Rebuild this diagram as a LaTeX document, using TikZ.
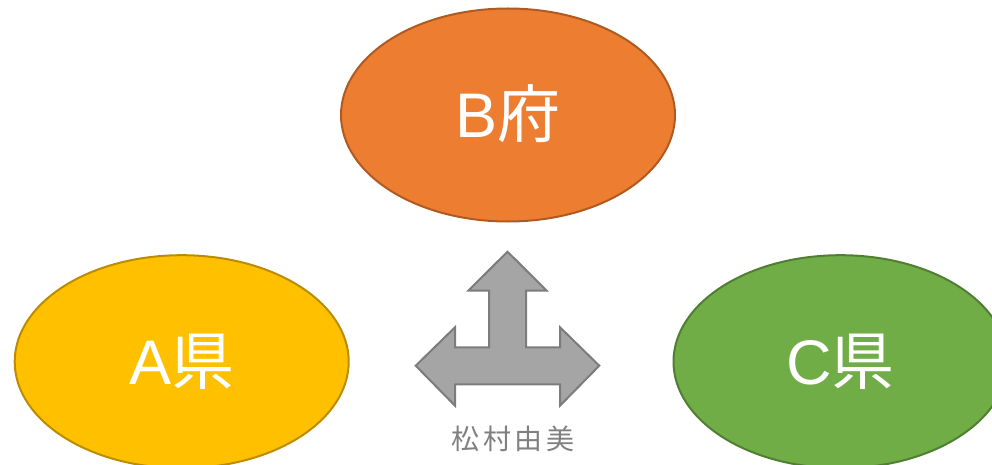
\documentclass[tikz,border=0pt]{standalone}
\usepackage{fontspec}
\setmainfont{Liberation Sans}
\newfontfamily\cjk{Noto Sans CJK JP}
\usetikzlibrary{shapes.geometric}
\definecolor{borange}{HTML}{ED7D31}
\definecolor{borangeline}{HTML}{AE5A21}
\definecolor{ayellow}{HTML}{FFC000}
\definecolor{ayellowline}{HTML}{BC8C00}
\definecolor{cgreen}{HTML}{70AD47}
\definecolor{cgreenline}{HTML}{507E32}
\definecolor{arrowfill}{HTML}{A5A5A5}
\definecolor{arrowline}{HTML}{7C7C7C}
\definecolor{labelgray}{HTML}{808080}
\tikzset{
  pref/.style={ellipse, inner sep=0pt, outer sep=0pt, line width=2pt,
    minimum width=334pt, minimum height=213pt, text=white,
    font=\fontsize{63}{63}\selectfont, text height=45pt, text depth=0pt},
  bigarrow/.style={fill=arrowfill, draw=arrowline, line width=2pt, line join=miter}
}
\begin{document}
\begin{tikzpicture}[x=1pt,y=-1pt]
\useasboundingbox (0,0) rectangle (992,465);
\clip (0,0) rectangle (992,465);
\node[pref, fill=borange, draw=borangeline] (B) at (508,115) {B{\cjk 府}};
\node[pref, fill=ayellow, draw=ayellowline] (A) at (181.7,361.7) {A{\cjk 県}};
\node[pref, fill=cgreen, draw=cgreenline] (C) at (840.5,361.7) {C{\cjk 県}};
\draw[bigarrow] (507.5,251.7) -- (546.7,290.7) -- (526,290.7) -- (526,347.3)
  -- (560,347.3) -- (560,327.3) -- (599.3,365.7) -- (560,405.7) -- (560,384.3)
  -- (455,384.3) -- (455,405.7) -- (415.7,365.7) -- (455,327.3) -- (455,347.3)
  -- (489,347.3) -- (489,290.7) -- (468.3,290.7) -- cycle;
\node[text=labelgray, font=\cjk\fontsize{28}{28}\selectfont\addfontfeature{LetterSpace=14}, inner sep=0pt] (author) at (513,439) {松村由美};
\end{tikzpicture}
\end{document}
